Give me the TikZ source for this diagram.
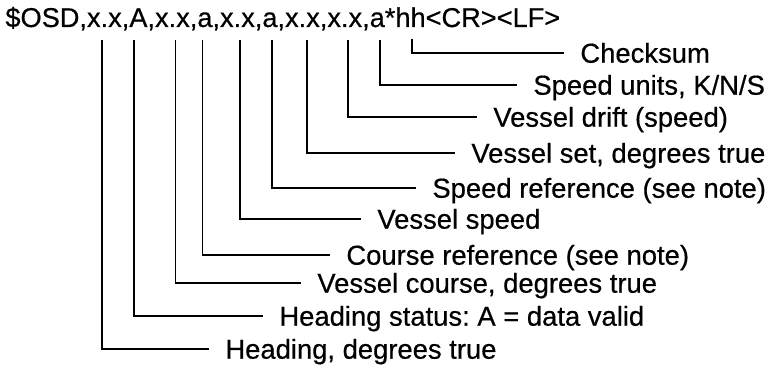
\documentclass[tikz,border=0pt]{standalone}
\usepackage{fontspec}
\setmainfont{Liberation Sans}[FakeBold=0.5]
\usetikzlibrary{positioning}
\frenchspacing

\begin{document}
\begin{tikzpicture}[
  x=0.5pt,y=-0.5pt,
  sentence/.style={inner sep=0pt,anchor=base west,font=\fontsize{13.6}{16}\selectfont},
  fieldlbl/.style={inner sep=0pt,anchor=west,text height=9.7pt,text depth=0pt,font=\fontsize{13.7}{16}\selectfont},
  lead/.style={line width=0.9pt}
]
\useasboundingbox (0,0) rectangle (769,367);
\node[sentence] (osd) at (5,27) {\$OSD,x.x,A,x.x,a,x.x,a,x.x,x.x,a*hh<CR><LF>};
% feet of the leader lines, under the fields
\coordinate (fcs) at (411.8,39);
\coordinate (fun) at (379.9,40);
\coordinate (fdr) at (347.9,40);
\coordinate (fst) at (307.1,40);
\coordinate (fsr) at (271.7,40);
\coordinate (fsp) at (239.8,40);
\coordinate (fcr) at (202.5,40);
\coordinate (fco) at (175.4,40);
\coordinate (fhs) at (133.7,40);
\coordinate (fhd) at (101.7,40);
% field descriptions
\node[fieldlbl] (lcs) at (580,53) {Checksum};
\node[fieldlbl] (lun) at (533,85) {Speed units, K/N/S};
\node[fieldlbl] (ldr) at (493,117) {Vessel drift (speed)};
\node[fieldlbl] (lst) at (471,153) {Vessel set, degrees true};
\node[fieldlbl] (lsr) at (432,188) {Speed reference (see note)};
\node[fieldlbl] (lsp) at (377,219) {Vessel speed};
\node[fieldlbl] (lcr) at (346,255) {Course reference (see note)};
\node[fieldlbl] (lco) at (317,283) {Vessel course, degrees true};
\node[fieldlbl] (lhs) at (279,316) {Heading status: A = data valid};
\node[fieldlbl] (lhd) at (225,349) {Heading, degrees true};
\draw[lead] (fcs) |- ([xshift=-8pt]lcs.west);
\draw[lead] (fun) |- ([xshift=-8pt]lun.west);
\draw[lead] (fdr) |- ([xshift=-8pt]ldr.west);
\draw[lead] (fst) |- ([xshift=-8pt]lst.west);
\draw[lead] (fsr) |- ([xshift=-8pt]lsr.west);
\draw[lead] (fsp) |- ([xshift=-8pt]lsp.west);
\draw[lead] (fcr) |- ([xshift=-8pt]lcr.west);
\draw[lead] (fco) |- ([xshift=-8pt]lco.west);
\draw[lead] (fhs) |- ([xshift=-8pt]lhs.west);
\draw[lead] (fhd) |- ([xshift=-8pt]lhd.west);
\end{tikzpicture}
\end{document}
